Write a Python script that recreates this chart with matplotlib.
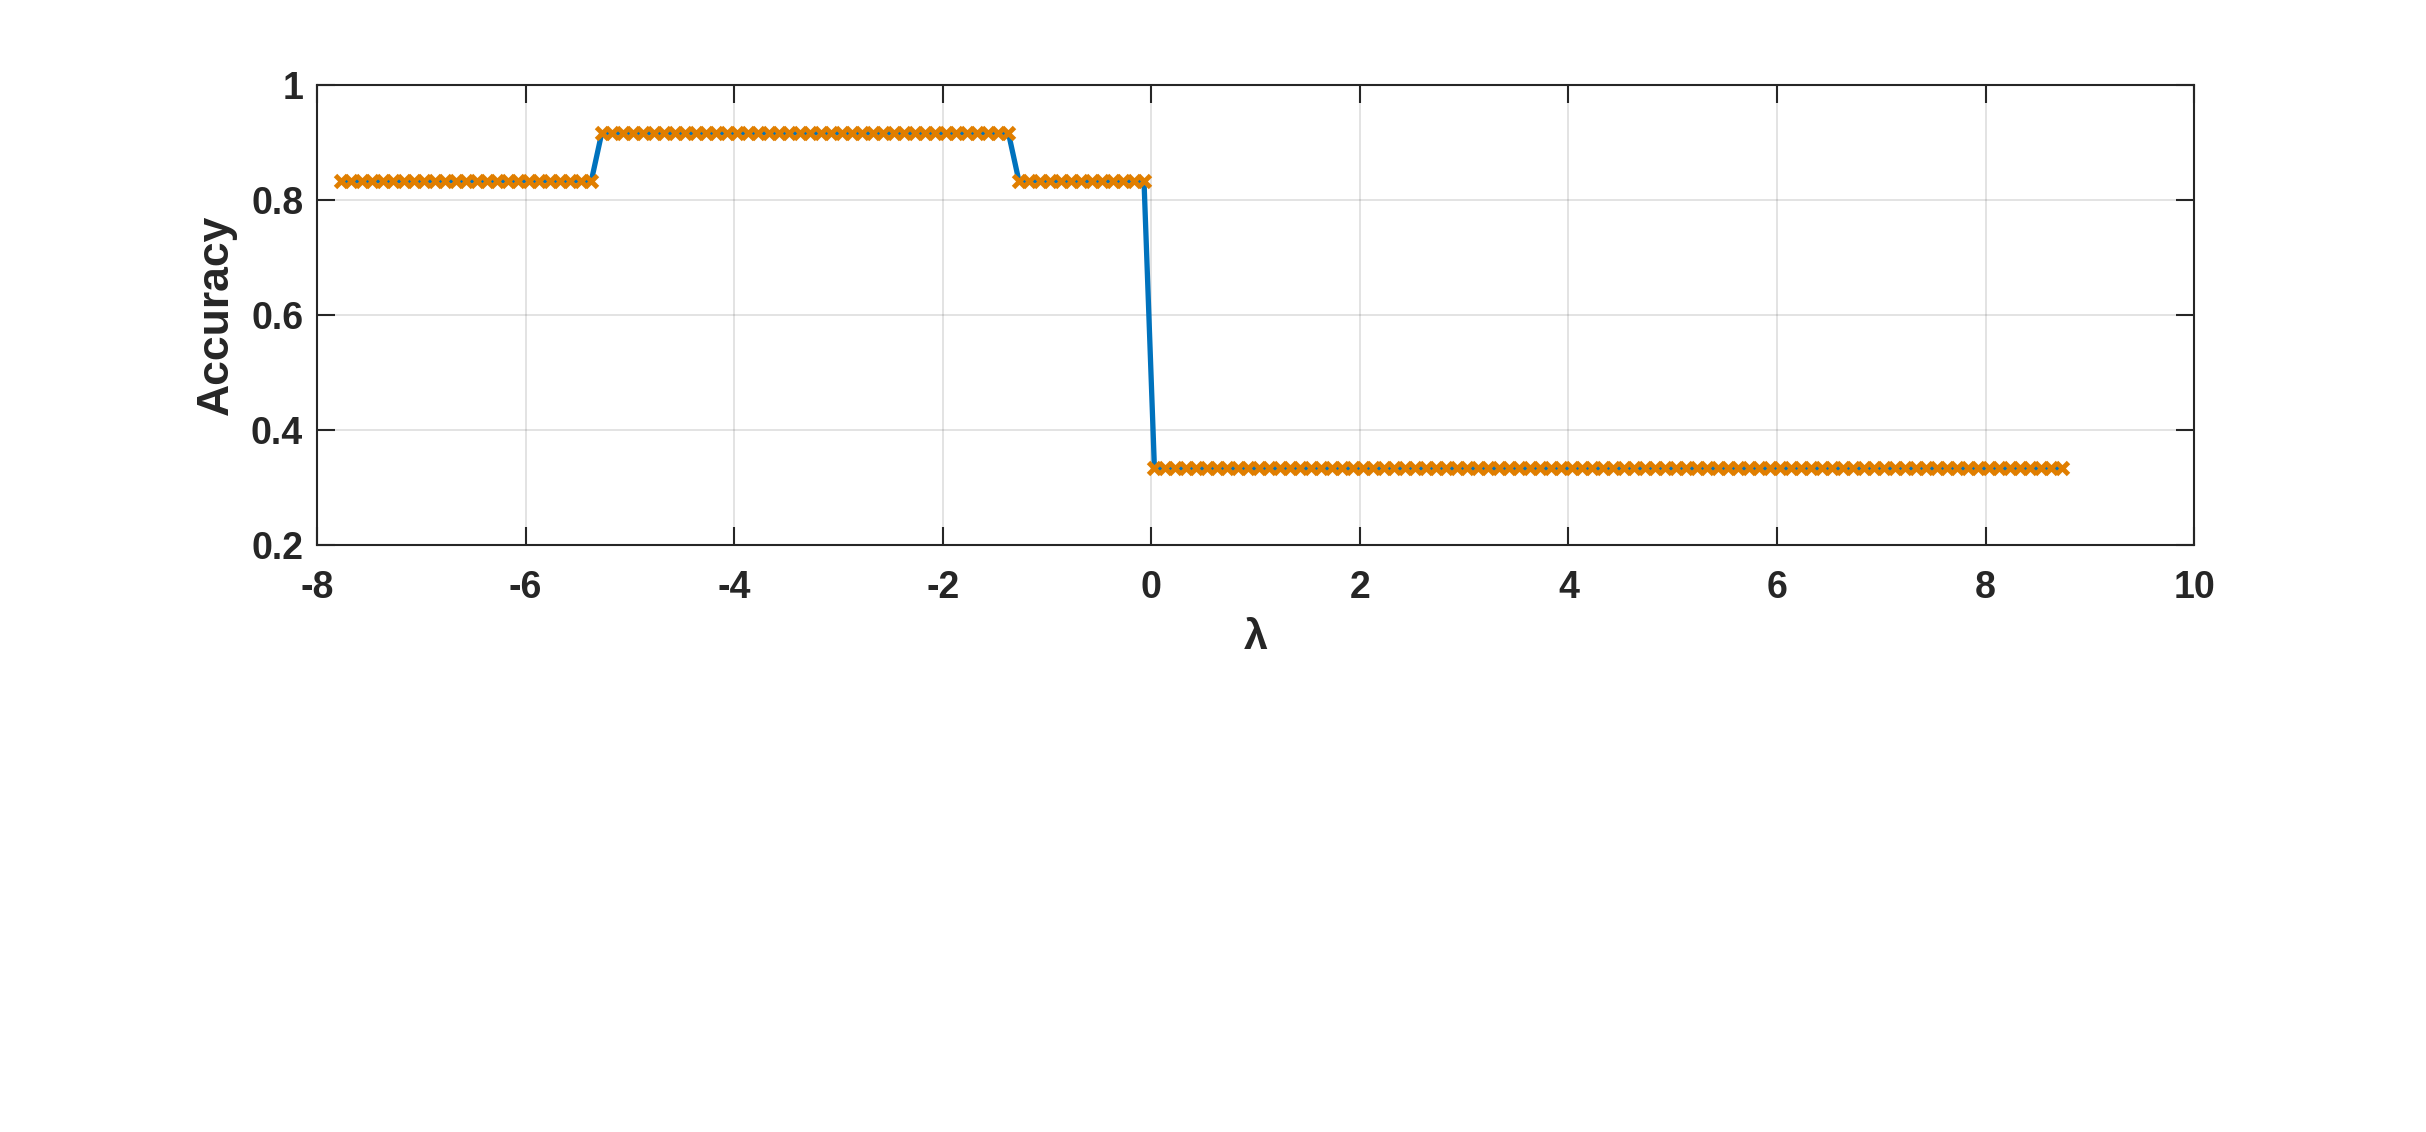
import matplotlib
matplotlib.use('Agg')
import matplotlib.pyplot as plt
import numpy as np

# lambda grid: first point, last point, step
lam_start = -7.77
lam_stop = 8.73
lam_step = 0.1

# accuracy plateaus (as fractions of 12 samples) and number of grid points on each
acc_levels = [10 / 12, 11 / 12, 10 / 12, 4 / 12]
acc_counts = [25, 40, 13, 88]

x_ticks = [-8, -6, -4, -2, 0, 2, 4, 6, 8, 10]
y_ticks = [0.2, 0.4, 0.6, 0.8, 1]

plt.rcParams['font.family'] = ['Liberation Sans', 'DejaVu Sans']
plt.rcParams['font.weight'] = 'bold'

lam = lam_start + lam_step * np.arange(sum(acc_counts))
acc = np.repeat(acc_levels, acc_counts)

fig = plt.figure(figsize=(24.26, 11.32), dpi=100)
ax = fig.add_axes([0.1307, 0.5186, 0.7737, 0.4063])

ax.plot(lam, acc, color='#0072BD', linewidth=3.8, zorder=3)
ax.plot(lam, acc, linestyle='None', marker='x', color='#E07E00',
        markersize=8.5, markeredgewidth=3.5, zorder=4)

ax.set_xlim(-8, 10)
ax.set_ylim(0.2, 1)
ax.set_xticks(x_ticks)
ax.set_yticks(y_ticks)
ax.set_xticklabels([str(t) for t in x_ticks])
ax.set_yticklabels(['0.2', '0.4', '0.6', '0.8', '1'])

ax.grid(True, color='#262626', alpha=0.15, linewidth=1.2)
ax.set_axisbelow(True)
for s in ax.spines.values():
    s.set_color('#262626')
    s.set_linewidth(1.5)
ax.tick_params(direction='in', length=13, width=1.5, color='#262626',
               top=True, right=True, labelsize=27, labelcolor='#262626')
ax.tick_params(axis='x', pad=18)
ax.tick_params(axis='y', pad=10)

ax.set_xlabel('λ', fontsize=31, fontweight='bold', color='#262626', labelpad=9)
ax.set_ylabel('Accuracy', fontsize=32, fontweight='bold', color='#262626', labelpad=10)

fig.savefig('out.png', dpi=100)
